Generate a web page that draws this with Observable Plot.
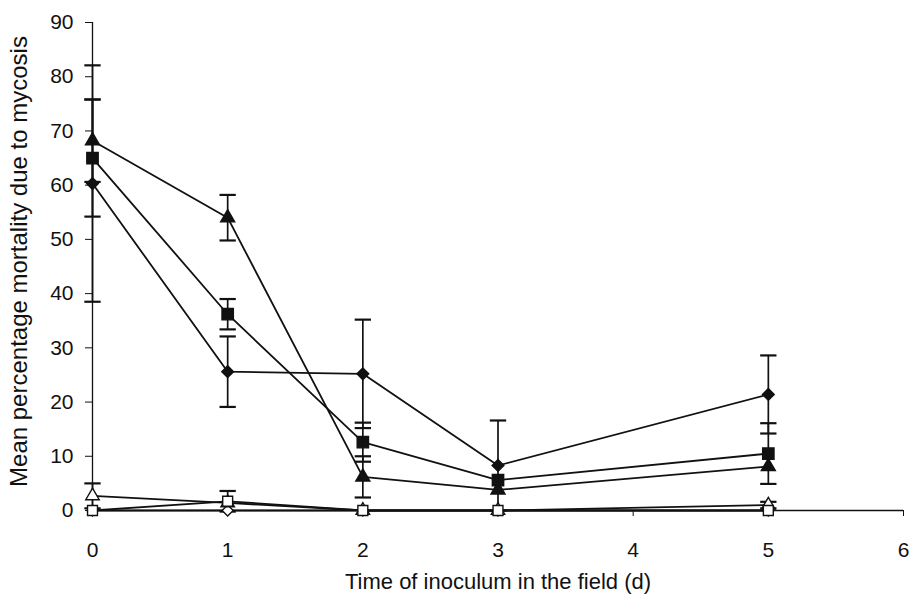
<!DOCTYPE html>
<html>
<head>
<meta charset="utf-8">
<script src="https://cdn.jsdelivr.net/npm/d3@7"></script>
<script src="https://cdn.jsdelivr.net/npm/@observablehq/plot@0.6"></script>
<style>
  html, body { margin: 0; padding: 0; background: #fff; }
  svg { display: block; }
</style>
</head>
<body>
<div id="chart"></div>
<script>
// Days the inoculum spent in the field
const days = [0, 1, 2, 3, 5];

// Filled series (mean % mortality and error half-widths)
const diamondVals = [60.3, 25.6, 25.2, 8.3, 21.4];
const diamondErr  = [21.8, 6.5, 10.0, 8.3, 7.2];
const squareVals  = [65.0, 36.2, 12.6, 5.6, 10.5];
const squareErr   = [10.8, 2.8, 3.6, 0, 5.6];
const triangleVals = [68.2, 54.0, 6.2, 3.8, 8.1];
const triangleErr  = [7.6, 4.2, 3.8, 0, 0];

// Open (control) series
const openTriangleVals = [2.7, 1.4, 0, 0, 1.0];
const openTriangleErr  = [2.3, 0, 0, 0, 0.6];
const openSquareVals   = [0, 1.7, 0, 0, 0];
const openSquareErr    = [0, 1.9, 0, 0, 0];
const openDiamondVals  = [0, 0, 0, 0, 0];
const openDiamondErr   = [0, 0, 0, 0, 0];

const xTicks = [0, 1, 2, 3, 4, 5, 6];
const yTicks = [0, 10, 20, 30, 40, 50, 60, 70, 80, 90];
const xTitle = "Time of inoculum in the field (d)";
const yTitle = "Mean percentage mortality due to mycosis";

const seriesDefs = [
  {name: "openDiamond", vals: openDiamondVals, err: openDiamondErr, symbol: "diamond2", fill: "white", r: 5},
  {name: "openTriangle", vals: openTriangleVals, err: openTriangleErr, symbol: "triangle", fill: "white", r: 5},
  {name: "openSquare", vals: openSquareVals, err: openSquareErr, symbol: "square", fill: "white", r: 5.6},
  {name: "diamond", vals: diamondVals, err: diamondErr, symbol: "diamond2", fill: "#111", r: 5.3},
  {name: "square", vals: squareVals, err: squareErr, symbol: "square", fill: "#111", r: 6.4},
  {name: "triangle", vals: triangleVals, err: triangleErr, symbol: "triangle", fill: "#111", r: 5.2}
];

const rows = [];
for (const s of seriesDefs) {
  days.forEach((d, i) => rows.push({series: s.name, x: d, y: s.vals[i], e: s.err[i]}));
}

const cap = {
  draw(ctx, size) {
    const w = Math.sqrt(size);
    ctx.moveTo(-w, 0);
    ctx.lineTo(w, 0);
  }
};

const marks = [];
marks.push(Plot.ruleX([0], {stroke: "#111", strokeWidth: 1.3}));
marks.push(Plot.ruleY([0], {stroke: "#111", strokeWidth: 1.3}));
marks.push(Plot.axisX({ticks: xTicks, tickFormat: d3.format("d"), tickSize: 6, tickPadding: 26, fontSize: 21, stroke: "#111", fill: "#111", label: null}));
marks.push(Plot.axisY({ticks: yTicks, tickFormat: d3.format("d"), tickSize: 7, tickPadding: 12, fontSize: 21, stroke: "#111", fill: "#111", label: null}));

for (const s of seriesDefs) {
  const data = rows.filter(r => r.series === s.name);
  const withErr = data.filter(r => r.e > 0);
  marks.push(Plot.line(data, {x: "x", y: "y", stroke: "#111", strokeWidth: 1.8}));
  marks.push(Plot.ruleX(withErr, {x: "x", y1: r => r.y - r.e, y2: r => r.y + r.e, stroke: "#111", strokeWidth: 1.7}));
  marks.push(Plot.dot(withErr, {x: "x", y: r => r.y + r.e, symbol: cap, r: 4.6, stroke: "#111", strokeWidth: 2.2, fill: "none"}));
  marks.push(Plot.dot(withErr, {x: "x", y: r => r.y - r.e, symbol: cap, r: 4.6, stroke: "#111", strokeWidth: 2.2, fill: "none"}));
}
for (const s of seriesDefs) {
  const data = rows.filter(r => r.series === s.name);
  marks.push(Plot.dot(data, {x: "x", y: "y", symbol: s.symbol, r: s.r, fill: s.fill, stroke: "#111", strokeWidth: 1.4}));
}

marks.push(Plot.text([xTitle], {frameAnchor: "bottom", dy: 78, fontSize: 22, fill: "#111", textAnchor: "middle"}));
marks.push(Plot.text([yTitle], {frameAnchor: "left", dx: -73, dy: -5, rotate: -90, fontSize: 24, fill: "#111", textAnchor: "middle"}));

const chart = Plot.plot({
  width: 919,
  height: 608,
  marginLeft: 92,
  marginRight: 16,
  marginTop: 22,
  marginBottom: 98,
  x: {domain: [0, 6], axis: null},
  y: {domain: [0, 90], axis: null},
  style: {fontFamily: "'Liberation Sans', Arial, sans-serif", fontSize: "21px", color: "#111", background: "#fff", overflow: "visible"},
  marks
});
document.getElementById("chart").appendChild(chart);
</script>
</body>
</html>
